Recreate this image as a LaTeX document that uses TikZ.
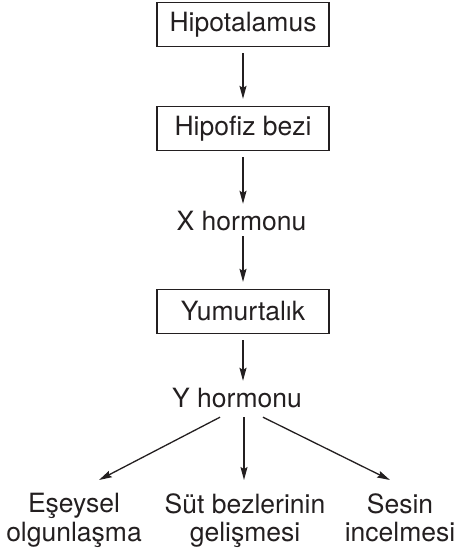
\documentclass[tikz,border=0pt]{standalone}
\usepackage{fontspec}
\setmainfont{TeX Gyre Heros}
\usetikzlibrary{arrows.meta,positioning}
\definecolor{hormink}{RGB}{35,31,32}
\tikzset{
  hormfont/.style={font=\fontsize{26.5}{28.5}\selectfont, text=hormink},
  hormbox/.style={hormfont, draw=hormink, line width=1.3pt,
    minimum width=172pt, minimum height=44pt, inner sep=0pt},
  hormtext/.style={hormfont, inner sep=0pt, text height=19pt, text depth=0pt},
  hormleaf/.style={hormfont, inner sep=0pt, align=center, anchor=north},
  hormarrow/.style={-{Stealth[length=13pt,width=7pt,inset=2pt]}, line width=1.3pt,
    draw=hormink, shorten <=6pt, shorten >=7pt},
}
\begin{document}
\begin{tikzpicture}[x=1pt,y=1pt]
  \useasboundingbox (0,0) rectangle (456,-553);
  \node[hormbox] (hyp) at (243,-24.5) {Hipotalamus};
  \node[hormbox] (hpf) at (243,-128.5) {Hipofiz bezi};
  \node[hormtext, anchor=base] (xh) at (241.5,-230) {X hormonu};
  \node[hormbox] (yum) at (243,-311.5) {Yumurtalık};
  \node[hormtext, anchor=base] (yh) at (237,-407) {Y hormonu};
  \node[hormleaf] (eo) at (74,-493) {Eşeysel\\olgunlaşma};
  \node[hormleaf] (sb) at (245,-493) {Süt bezlerinin\\gelişmesi};
  \node[hormleaf] (si) at (400,-493) {Sesin\\incelmesi};
  \draw[hormarrow] (hyp) -- (hpf);
  \draw[hormarrow] (hpf) -- (hpf |- xh.north);
  \draw[hormarrow] (hpf |- xh.south) -- (yum);
  \draw[hormarrow] (yum) -- (yum |- yh.north);
  \draw[hormarrow, shorten <=0pt, shorten >=0pt]
    ([xshift=-17pt,yshift=-10pt]yh.south) -- ([xshift=25pt,yshift=13pt]eo.north);
  \draw[hormarrow, shorten <=0pt, shorten >=0pt]
    ([xshift=7pt,yshift=-10pt]yh.south) -- ([xshift=-1pt,yshift=13pt]sb.north);
  \draw[hormarrow, shorten <=0pt, shorten >=0pt]
    ([xshift=26pt,yshift=-10pt]yh.south) -- ([xshift=-10pt,yshift=13pt]si.north);
\end{tikzpicture}
\end{document}
